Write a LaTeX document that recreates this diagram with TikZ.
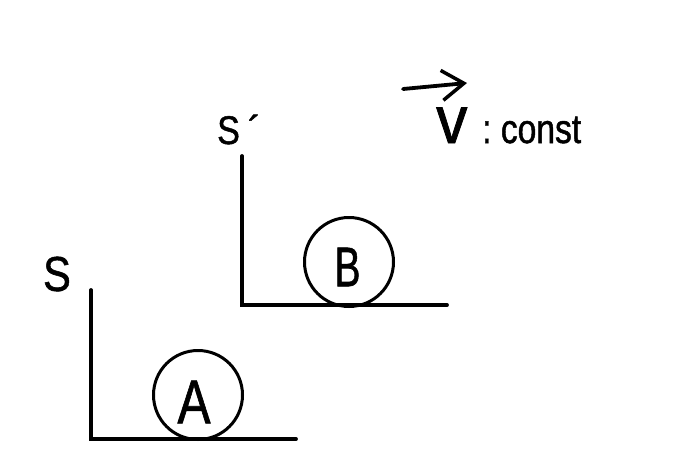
\documentclass[tikz,border=0pt]{standalone}
\usepackage{fontspec}
\usepackage{graphicx}
\setmainfont{Liberation Sans}
\newfontfamily\handfont[FakeBold=1.2]{Liberation Sans}
\usetikzlibrary{arrows.meta}
\begin{document}
\begin{tikzpicture}[x=1pt,y=-1pt,
  axis/.style={line width=3.8pt, line cap=round},
  body/.style={circle, draw, line width=3pt, minimum size=89pt, inner sep=0pt},
  lbl/.style={inner sep=0pt, font=\handfont}]
\useasboundingbox[fill=white] (0,0) rectangle (689,467);
% frame S
\coordinate (O1) at (91,439);
\coordinate (Y1) at (91,290);
\coordinate (X1) at (296,439);
\draw[axis] (Y1) -- (O1) -- (X1);
\node[lbl] (S) at (57,274) {\fontsize{49}{49}\selectfont\scalebox{0.85}[1]{S}};
% frame S'
\coordinate (O2) at (242,305);
\coordinate (Y2) at (242,156);
\coordinate (X2) at (447,305);
\draw[axis] (Y2) -- (O2) -- (X2);
\node[lbl, anchor=base west] (Sp) at (217,144) {\fontsize{40}{40}\selectfont\scalebox{0.85}[1]{S}\kern8pt\raisebox{0pt}{´}};
% bodies
\node[body] (A) at (198,395) {};
\node[lbl] (Atext) at (194,402) {\fontsize{62}{62}\selectfont\scalebox{0.8}[1]{A}};
\node[body] (B) at (349,262) {};
\node[lbl] (Btext) at (347.5,267) {\fontsize{56}{56}\selectfont\scalebox{0.7}[1]{B}};
% velocity
\coordinate (v0) at (403,89);
\coordinate (v1) at (467,83);
\draw[line width=3.8pt, line cap=round, -{Straight Barb[length=22pt,width=30pt,line width=3.5pt]}] (v0) -- (v1);
\node[lbl, anchor=base west] (v) at (436,143) {\fontsize{48}{48}\selectfont\scalebox{1.3}[1.4]{v}};
\node[lbl, anchor=base west] (const) at (482,143) {\fontsize{41}{41}\selectfont\scalebox{0.82}[1]{:\ const}};
\end{tikzpicture}
\end{document}
